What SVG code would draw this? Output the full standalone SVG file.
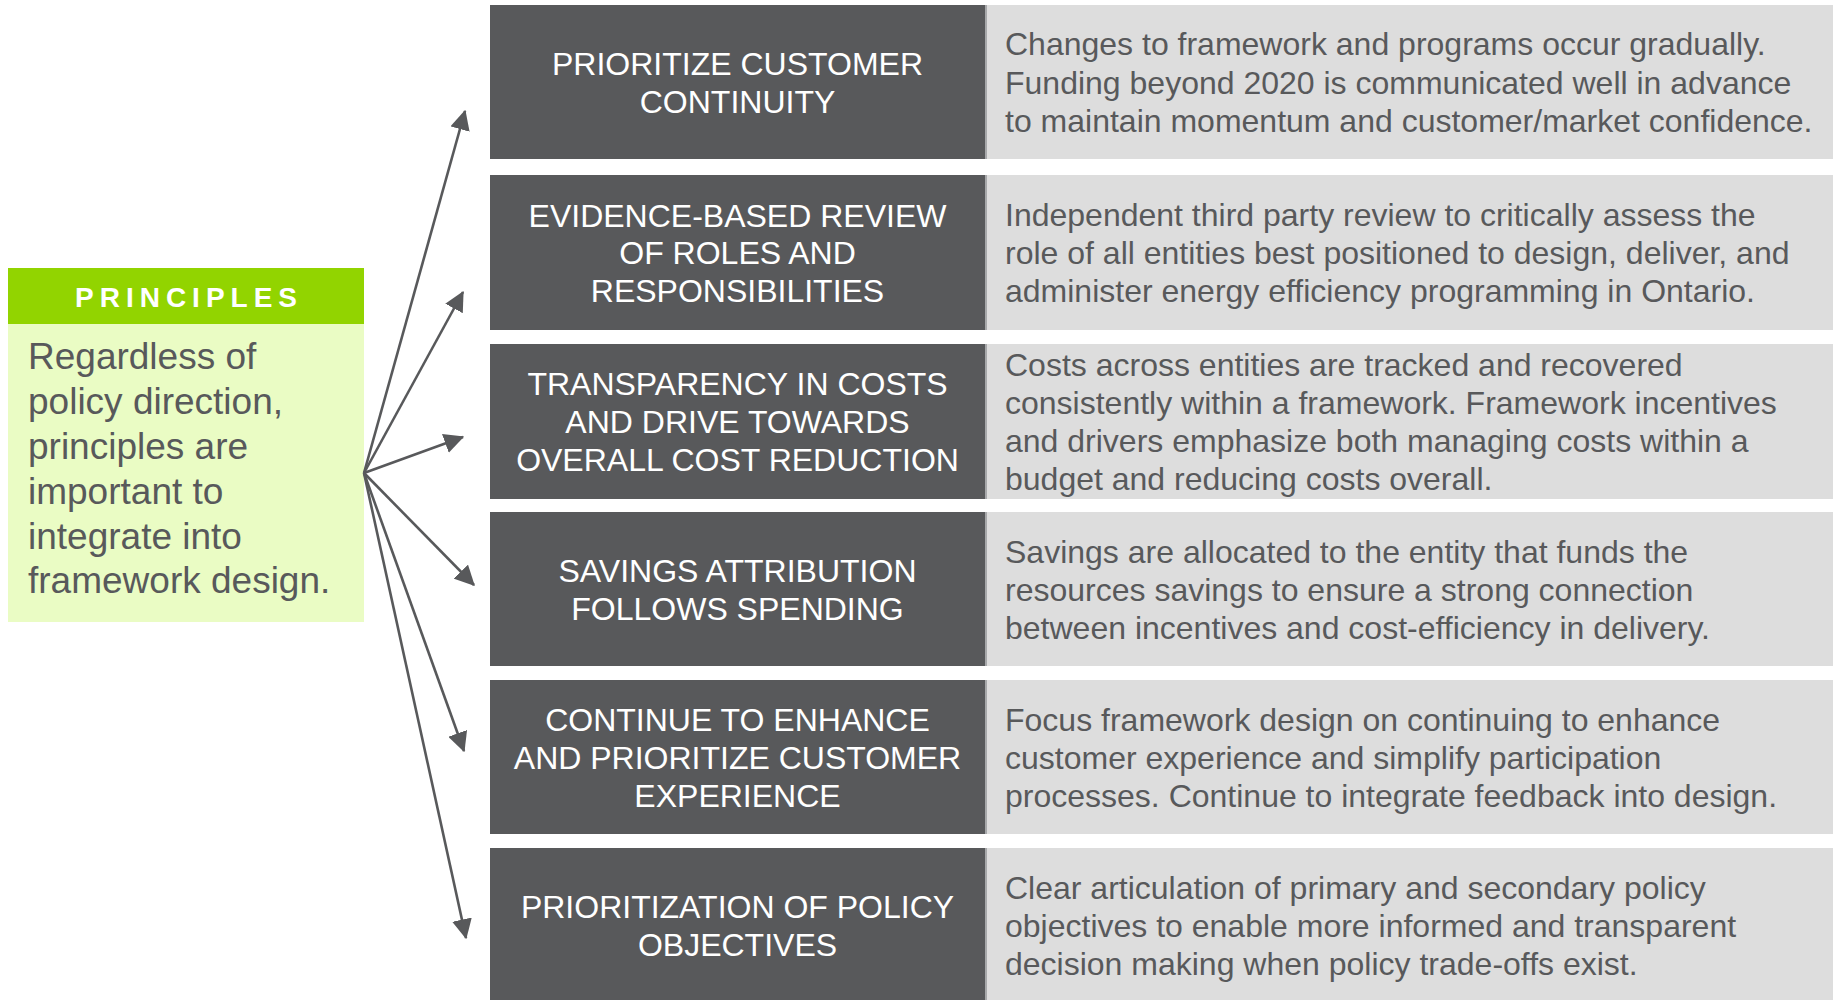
<svg xmlns="http://www.w3.org/2000/svg" width="1835" height="1000" viewBox="0 0 1835 1000">
<style>
.dark{fill:#58595b}
.light{fill:#dddddd}
.shadow{fill:#a7a8aa}
.title{font-family:"Liberation Sans",Arial,sans-serif;font-size:32px;fill:#ffffff;text-anchor:middle}
.desc{font-family:"Liberation Sans",Arial,sans-serif;font-size:32px;fill:#58595b}
.body{font-family:"Liberation Sans",Arial,sans-serif;font-size:37px;fill:#58595b}
.hdr{font-family:"Liberation Sans",Arial,sans-serif;font-size:28px;font-weight:bold;fill:#ffffff;letter-spacing:6px;text-anchor:middle}
.conn{stroke:#58595b;stroke-width:2.6;fill:none;marker-end:url(#ah)}
</style>
<defs>
<marker id="ah" markerUnits="userSpaceOnUse" markerWidth="20" markerHeight="20" viewBox="0 0 16 16" refX="15" refY="8" orient="auto">
<path d="M0,0 L16,8 L0,16 Z" fill="#58595b"/>
</marker>
</defs>
<rect width="1835" height="1000" fill="#ffffff"/>

<g id="principles">
<rect x="8" y="268" width="356" height="56" fill="#92d400"/>
<rect x="8" y="324" width="356" height="298" fill="#eafcc4"/>
<text class="hdr" x="189" y="307">PRINCIPLES</text>
<text class="body" x="28" y="369">Regardless of</text>
<text class="body" x="28" y="414">policy direction,</text>
<text class="body" x="28" y="459">principles are</text>
<text class="body" x="28" y="504">important to</text>
<text class="body" x="28" y="549">integrate into</text>
<text class="body" x="28" y="593">framework design.</text>
</g>

<g id="row1">
<rect class="light" x="986" y="5" width="847" height="154"/>
<rect class="shadow" x="985" y="5" width="2" height="154"/>
<rect class="dark" x="490" y="5" width="495" height="154"/>
<text class="title" x="737.5" y="75">PRIORITIZE CUSTOMER</text>
<text class="title" x="737.5" y="113">CONTINUITY</text>
<text class="desc" x="1005" y="55">Changes to framework and programs occur gradually.</text>
<text class="desc" x="1005" y="93.5">Funding beyond 2020 is communicated well in advance</text>
<text class="desc" x="1005" y="132">to maintain momentum and customer/market confidence.</text>
</g>

<g id="row2">
<rect class="light" x="986" y="175" width="847" height="155"/>
<rect class="shadow" x="985" y="175" width="2" height="155"/>
<rect class="dark" x="490" y="175" width="495" height="155"/>
<text class="title" x="737.5" y="226.5">EVIDENCE-BASED REVIEW</text>
<text class="title" x="737.5" y="264">OF ROLES AND</text>
<text class="title" x="737.5" y="301.5">RESPONSIBILITIES</text>
<text class="desc" x="1005" y="226">Independent third party review to critically assess the</text>
<text class="desc" x="1005" y="264">role of all entities best positioned to design, deliver, and</text>
<text class="desc" x="1005" y="302">administer energy efficiency programming in Ontario.</text>
</g>

<g id="row3">
<rect class="light" x="986" y="344" width="847" height="155"/>
<rect class="shadow" x="985" y="344" width="2" height="155"/>
<rect class="dark" x="490" y="344" width="495" height="155"/>
<text class="title" x="737.5" y="395">TRANSPARENCY IN COSTS</text>
<text class="title" x="737.5" y="433">AND DRIVE TOWARDS</text>
<text class="title" x="737.5" y="471">OVERALL COST REDUCTION</text>
<text class="desc" x="1005" y="376">Costs across entities are tracked and recovered</text>
<text class="desc" x="1005" y="414">consistently within a framework. Framework incentives</text>
<text class="desc" x="1005" y="452">and drivers emphasize both managing costs within a</text>
<text class="desc" x="1005" y="490">budget and reducing costs overall.</text>
</g>

<g id="row4">
<rect class="light" x="986" y="512" width="847" height="154"/>
<rect class="shadow" x="985" y="512" width="2" height="154"/>
<rect class="dark" x="490" y="512" width="495" height="154"/>
<text class="title" x="737.5" y="582">SAVINGS ATTRIBUTION</text>
<text class="title" x="737.5" y="620">FOLLOWS SPENDING</text>
<text class="desc" x="1005" y="563">Savings are allocated to the entity that funds the</text>
<text class="desc" x="1005" y="601">resources savings to ensure a strong connection</text>
<text class="desc" x="1005" y="639">between incentives and cost-efficiency in delivery.</text>
</g>

<g id="row5">
<rect class="light" x="986" y="680" width="847" height="154"/>
<rect class="shadow" x="985" y="680" width="2" height="154"/>
<rect class="dark" x="490" y="680" width="495" height="154"/>
<text class="title" x="737.5" y="731">CONTINUE TO ENHANCE</text>
<text class="title" x="737.5" y="769">AND PRIORITIZE CUSTOMER</text>
<text class="title" x="737.5" y="807">EXPERIENCE</text>
<text class="desc" x="1005" y="731">Focus framework design on continuing to enhance</text>
<text class="desc" x="1005" y="769">customer experience and simplify participation</text>
<text class="desc" x="1005" y="807">processes. Continue to integrate feedback into design.</text>
</g>

<g id="row6">
<rect class="light" x="986" y="848" width="847" height="154"/>
<rect class="shadow" x="985" y="848" width="2" height="154"/>
<rect class="dark" x="490" y="848" width="495" height="154"/>
<text class="title" x="737.5" y="918">PRIORITIZATION OF POLICY</text>
<text class="title" x="737.5" y="956">OBJECTIVES</text>
<text class="desc" x="1005" y="899">Clear articulation of primary and secondary policy</text>
<text class="desc" x="1005" y="937">objectives to enable more informed and transparent</text>
<text class="desc" x="1005" y="975">decision making when policy trade-offs exist.</text>
</g>

<g id="connectors">
<line class="conn" x1="364" y1="473" x2="465" y2="111"/>
<line class="conn" x1="364" y1="473" x2="463" y2="292"/>
<line class="conn" x1="364" y1="473" x2="463" y2="437"/>
<line class="conn" x1="364" y1="473" x2="474" y2="585"/>
<line class="conn" x1="364" y1="473" x2="464" y2="751"/>
<line class="conn" x1="364" y1="473" x2="466" y2="938"/>
</g>
</svg>
